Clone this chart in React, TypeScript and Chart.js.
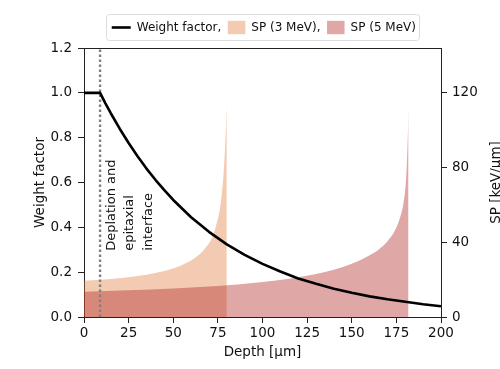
import { useEffect, useRef } from 'react';
import { Chart, registerables } from 'chart.js';

Chart.register(...registerables);

const FONT = '"DejaVu Sans", "Liberation Sans", sans-serif';

const X_TICKS = [0, 25, 50, 75, 100, 125, 150, 175, 200];
const LEFT_TICKS = [0, 0.2, 0.4, 0.6, 0.8, 1.0, 1.2];
const RIGHT_TICKS = [0, 40, 80, 120];

const WF_DEPTH = [0, 9, 12, 15, 20, 25, 30, 35, 40, 45, 50, 60, 70, 80, 90, 100, 110, 120, 130, 140, 150, 160, 170, 180, 190, 200];
const WF_VALUES = [1.0, 1.0, 0.953, 0.909, 0.84, 0.776, 0.717, 0.662, 0.612, 0.566, 0.522, 0.445, 0.38, 0.324, 0.277, 0.237, 0.203, 0.172, 0.148, 0.126, 0.108, 0.092, 0.079, 0.068, 0.057, 0.048];

const SP3_DEPTH = [0, 15, 30, 40, 50, 57, 63, 68, 72, 74.3, 76, 77.1, 78, 79, 79.6, 80];
const SP3_VALUES = [19.4, 20.4, 22, 23.6, 26, 28.8, 32.3, 37, 43, 50, 57, 65, 74, 90, 103, 113];

const SP5_DEPTH = [0, 25, 50, 75, 100, 115, 130, 140, 150, 158, 165, 170, 174, 177, 179, 180.3, 181, 181.5, 181.8];
const SP5_VALUES = [13.5, 14.3, 15.3, 16.6, 18.8, 20.5, 23, 25.3, 28.5, 32, 36, 40.5, 46, 53, 61, 72, 85, 100, 113];

const INTERFACE_DEPTH = 9;
const ANNOTATION_LINES = ['Deplation and', 'epitaxial', 'interface'];
const LEGEND_LABELS = ['Weight factor,', 'SP (3 MeV),', 'SP (5 MeV)'];

const SP3_COLOR = 'rgba(223,125,63,0.4)';
const SP5_COLOR = 'rgba(178,34,34,0.4)';
const TEXT = '#111';
const AXIS = '#222';

const overlay = {
  id: 'overlay',
  afterDraw(chart: any) {
    const { ctx, chartArea, scales } = chart;
    ctx.save();
    // top spine
    ctx.strokeStyle = AXIS;
    ctx.lineWidth = 1;
    ctx.beginPath();
    ctx.moveTo(chartArea.left, Math.round(chartArea.top) + 0.5);
    ctx.lineTo(chartArea.right, Math.round(chartArea.top) + 0.5);
    ctx.stroke();

    // annotation
    ctx.fillStyle = TEXT;
    ctx.font = `13px ${FONT}`;
    ctx.textAlign = 'left';
    ctx.textBaseline = 'alphabetic';
    const bx = scales.x.getPixelForValue(INTERFACE_DEPTH) + 14.5;
    const by = scales.y.getPixelForValue(0.295);
    ANNOTATION_LINES.forEach((line, i) => {
      ctx.save();
      ctx.translate(bx + i * 18.7, by);
      ctx.rotate(-Math.PI / 2);
      ctx.fillText(line, 0, 0);
      ctx.restore();
    });

    // right axis title
    ctx.font = `13.5px ${FONT}`;
    ctx.save();
    ctx.translate(500, (chartArea.top + chartArea.bottom) / 2);
    ctx.rotate(-Math.PI / 2);
    ctx.textAlign = 'center';
    ctx.fillText('SP [keV/μm]', 0, 0);
    ctx.restore();

    // legend
    ctx.font = `12px ${FONT}`;
    const w = LEGEND_LABELS.map((t) => ctx.measureText(t).width);
    const handle = [19, 17.5, 17.5];
    const gapText = 6;
    const gapItem = 6.5;
    const padL = 5.7;
    const padR = 3;
    let total = padL + padR;
    for (let i = 0; i < 3; i++) total += handle[i] + gapText + w[i] + (i < 2 ? gapItem : 0);
    const cx = (chartArea.left + chartArea.right) / 2;
    const lx = cx - total / 2;
    const ly = 14.5;
    const lh = 26;
    ctx.fillStyle = 'rgba(255,255,255,0.8)';
    ctx.strokeStyle = '#dcdcdc';
    ctx.lineWidth = 1;
    ctx.beginPath();
    (ctx as any).roundRect(Math.round(lx) + 0.5, ly, Math.round(total), lh, 3);
    ctx.fill();
    ctx.stroke();
    const my = ly + lh / 2;
    let x = lx + padL;
    ctx.strokeStyle = '#000';
    ctx.lineWidth = 2.6;
    ctx.beginPath();
    ctx.moveTo(x, my);
    ctx.lineTo(x + handle[0], my);
    ctx.stroke();
    x += handle[0] + gapText;
    ctx.fillStyle = TEXT;
    ctx.textBaseline = 'middle';
    ctx.textAlign = 'left';
    ctx.fillText(LEGEND_LABELS[0], x, my);
    x += w[0] + gapItem;
    ctx.fillStyle = SP3_COLOR;
    ctx.fillRect(x, my - 6.7, handle[1], 13.4);
    x += handle[1] + gapText;
    ctx.fillStyle = TEXT;
    ctx.fillText(LEGEND_LABELS[1], x, my);
    x += w[1] + gapItem;
    ctx.fillStyle = SP5_COLOR;
    ctx.fillRect(x, my - 6.7, handle[2], 13.4);
    x += handle[2] + gapText;
    ctx.fillStyle = TEXT;
    ctx.fillText(LEGEND_LABELS[2], x, my);
    ctx.restore();
  },
};

export default function App() {
  const ref = useRef<HTMLCanvasElement>(null);
  useEffect(() => {
    if (!ref.current) return;
    Chart.defaults.font.family = FONT;
    const tickFont = { family: FONT, size: 13.5 };
    const gridCfg = { display: true, drawOnChartArea: false, drawTicks: true, tickLength: 6, color: AXIS, lineWidth: 1 };
    const chart = new Chart(ref.current, {
      type: 'line',
      data: {
        datasets: [
          {
            label: 'Weight factor',
            data: WF_DEPTH.map((d, i) => ({ x: d, y: WF_VALUES[i] })),
            yAxisID: 'y',
            borderColor: '#000',
            borderWidth: 2.6,
            pointRadius: 0,
            fill: false,
            tension: 0,
            borderJoinStyle: 'round',
            order: 0,
          },
          {
            label: 'interface',
            data: [
              { x: INTERFACE_DEPTH, y: 0 },
              { x: INTERFACE_DEPTH, y: 1.2 },
            ],
            yAxisID: 'y',
            borderColor: '#808080',
            borderWidth: 2.4,
            borderDash: [2.4, 2.6],
            pointRadius: 0,
            fill: false,
            order: 1,
          },
          {
            label: 'SP (5 MeV)',
            data: SP5_DEPTH.map((d, i) => ({ x: d, y: SP5_VALUES[i] })),
            yAxisID: 'y1',
            borderColor: 'rgba(0,0,0,0)',
            borderWidth: 0,
            backgroundColor: SP5_COLOR,
            pointRadius: 0,
            fill: 'origin',
            cubicInterpolationMode: 'monotone',
            order: 2,
          },
          {
            label: 'SP (3 MeV)',
            data: SP3_DEPTH.map((d, i) => ({ x: d, y: SP3_VALUES[i] })),
            yAxisID: 'y1',
            borderColor: 'rgba(0,0,0,0)',
            borderWidth: 0,
            backgroundColor: SP3_COLOR,
            pointRadius: 0,
            fill: 'origin',
            cubicInterpolationMode: 'monotone',
            order: 3,
          },
        ],
      },
      options: {
        animation: false,
        responsive: false,
        maintainAspectRatio: false,
        layout: { padding: { top: 48, left: 0, right: 0, bottom: 0 } },
        plugins: { legend: { display: false }, tooltip: { enabled: false } },
        scales: {
          x: {
            type: 'linear',
            position: 'bottom',
            min: 0,
            max: 200,
            afterBuildTicks: (s: any) => {
              s.ticks = X_TICKS.map((v) => ({ value: v }));
            },
            afterFit: (s: any) => {
              s.height = 52;
            },
            grid: gridCfg,
            border: { display: true, color: AXIS, width: 1 },
            ticks: { color: TEXT, font: tickFont, padding: 2, maxRotation: 0, autoSkip: false, callback: (v: any) => String(v) },
            title: { display: true, text: 'Depth [μm]', color: TEXT, font: tickFont, padding: { top: 0, bottom: 8 } },
          },
          y: {
            type: 'linear',
            position: 'left',
            min: 0,
            max: 1.2,
            afterBuildTicks: (s: any) => {
              s.ticks = LEFT_TICKS.map((v) => ({ value: v }));
            },
            afterFit: (s: any) => {
              s.width = 84;
            },
            grid: gridCfg,
            border: { display: true, color: AXIS, width: 1 },
            ticks: { color: TEXT, font: tickFont, padding: 6, autoSkip: false, callback: (v: any) => Number(v).toFixed(1) },
            title: { display: true, text: 'Weight factor', color: TEXT, font: tickFont, padding: { top: 32, bottom: 0 } },
          },
          y1: {
            type: 'linear',
            position: 'right',
            min: 0,
            max: 144,
            afterBuildTicks: (s: any) => {
              s.ticks = RIGHT_TICKS.map((v) => ({ value: v }));
            },
            afterFit: (s: any) => {
              s.width = 59;
            },
            grid: gridCfg,
            border: { display: true, color: AXIS, width: 1 },
            ticks: { color: TEXT, font: tickFont, padding: 5, autoSkip: false, callback: (v: any) => String(v) },
          },
        },
      } as any,
      plugins: [overlay],
    });
    return () => chart.destroy();
  }, []);
  return (
    <div style={{ position: 'absolute', left: 0, top: 0, width: 500, height: 369 }}>
      <canvas ref={ref} width={500} height={369} style={{ display: 'block', width: 500, height: 369 }} />
    </div>
  );
}
